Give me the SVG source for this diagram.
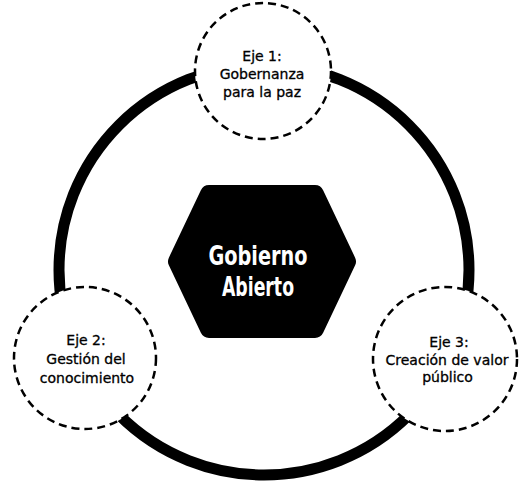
<svg xmlns="http://www.w3.org/2000/svg" width="521" height="482" viewBox="0 0 521 482">
<style>
.ring{fill:none;stroke:#000;stroke-width:11}
.axis{fill:#fff;stroke:#000;stroke-width:2.5;stroke-dasharray:8 5}
.lbl{font-family:"DejaVu Sans","Liberation Sans",sans-serif;font-size:14px;fill:#000;stroke:#000;stroke-width:0.3;text-anchor:middle}
.core{font-family:"DejaVu Sans Condensed","DejaVu Sans","Liberation Sans",sans-serif;font-weight:bold;font-size:27px;fill:#fff;text-anchor:middle}
</style>
<rect width="521" height="482" fill="#fff"/>
<g id="connectors">
<circle class="ring" cx="264" cy="270" r="205"/>
</g>
<g id="core">
<polygon points="177,261.5 209,194 315,194 347,261.5 315,329 209,329" fill="#000" stroke="#000" stroke-width="18" stroke-linejoin="round"/>
<text class="core" x="258" y="265" textLength="99" lengthAdjust="spacingAndGlyphs">Gobierno</text>
<text class="core" x="258" y="296" textLength="72" lengthAdjust="spacingAndGlyphs">Abierto</text>
</g>
<g id="eje1">
<circle class="axis" cx="263" cy="71" r="68"/>
<text class="lbl" x="262" y="61">Eje 1:</text>
<text class="lbl" x="262" y="79">Gobernanza</text>
<text class="lbl" x="262" y="96.5">para la paz</text>
</g>
<g id="eje2">
<circle class="axis" cx="85" cy="358" r="71"/>
<text class="lbl" x="86" y="345">Eje 2:</text>
<text class="lbl" x="86" y="363.5">Gestión del</text>
<text class="lbl" x="87" y="383">conocimiento</text>
</g>
<g id="eje3">
<circle class="axis" cx="445" cy="359" r="72"/>
<text class="lbl" x="449" y="346.5">Eje 3:</text>
<text class="lbl" x="447" y="364.5">Creación de valor</text>
<text class="lbl" x="447.5" y="382">público</text>
</g>
</svg>
